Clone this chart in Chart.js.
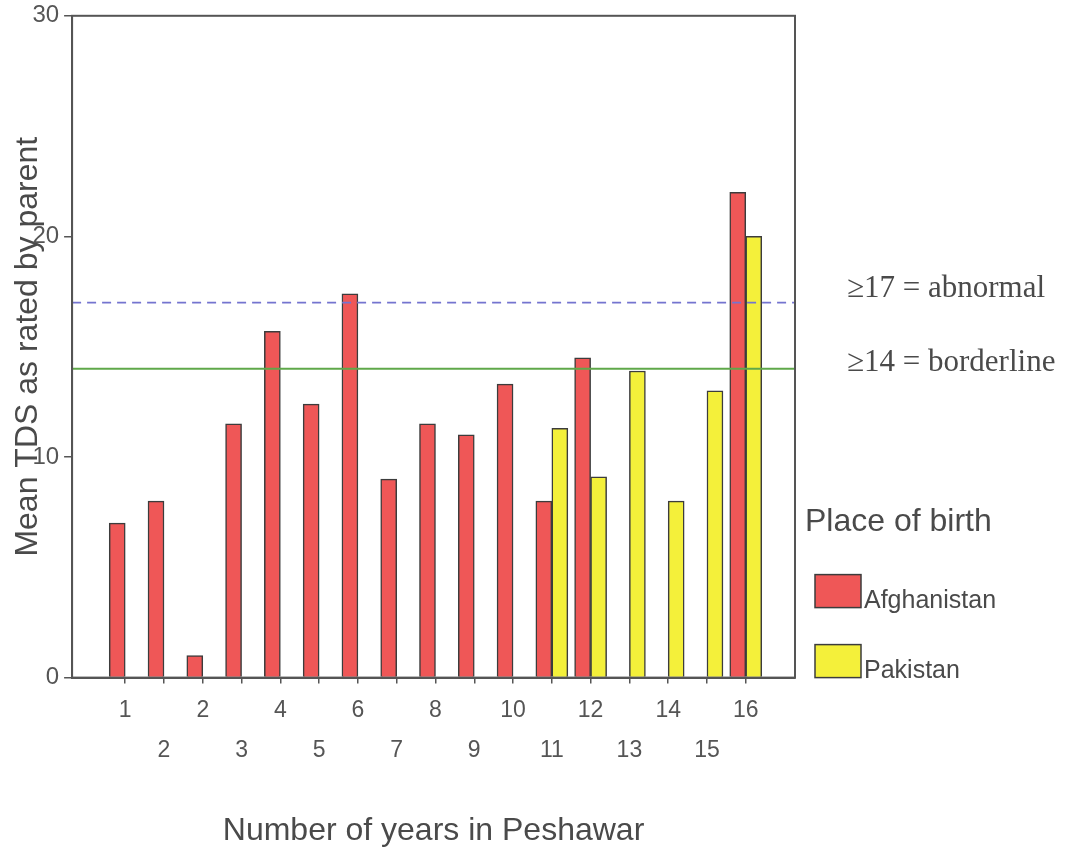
<!DOCTYPE html>
<html>
<head>
<meta charset="utf-8">
<script src="https://cdn.jsdelivr.net/npm/chart.js@4.4.0/dist/chart.umd.min.js"></script>
<style>
  html, body { margin: 0; padding: 0; background: #fff; }
</style>
</head>
<body>
<canvas id="myChart" width="1072" height="854"></canvas>
<script>
// categories as printed under the axis (the third one really reads "2")
const years = ['1', '2', '2', '3', '4', '5', '6', '7', '8', '9', '10', '11', '12', '13', '14', '15', '16'];
const afghanistan = [7, 8, 1, 11.5, 15.7, 12.4, 17.4, 9, 11.5, 11, 13.3, 8, 14.5, null, null, null, 22];
const pakistan = [null, null, null, null, null, null, null, null, null, null, null, 11.3, 9.1, 13.9, 8, 13, 20];
const yTicks = [0, 10, 20, 30];
const cutoffs = [17, 14];
const cutoffLabels = ['≥17 = abnormal', '≥14 = borderline'];
const legendTitle = 'Place of birth';

const ctx = document.getElementById('myChart');
const sans = 'Liberation Sans';
const ink = '#4a4a4a';
const axisGray = '#555';

// cutoff lines + notes, frame, legend
const extras = {
  id: 'extras',
  afterDatasetsDraw(chart) {
    const {ctx, chartArea: a, scales: {y}} = chart;
    const styles = [
      {color: '#7474cf', dash: [9, 6], width: 1.6},
      {color: '#5fa84a', dash: [], width: 1.8}
    ];
    const textDy = [-6, 2];
    ctx.save();
    cutoffs.forEach((v, i) => {
      const py = y.getPixelForValue(v);
      ctx.strokeStyle = styles[i].color;
      ctx.lineWidth = styles[i].width;
      ctx.setLineDash(styles[i].dash);
      ctx.beginPath();
      ctx.moveTo(a.left, py);
      ctx.lineTo(a.right, py);
      ctx.stroke();
      ctx.setLineDash([]);
      ctx.fillStyle = ink;
      ctx.font = '31px "Liberation Serif"';
      ctx.textBaseline = 'alphabetic';
      ctx.textAlign = 'left';
      ctx.fillText(cutoffLabels[i], a.right + 52, py + textDy[i]);
    });
    ctx.strokeStyle = axisGray;
    ctx.lineWidth = 2;
    ctx.strokeRect(a.left, a.top, a.right - a.left, a.bottom - a.top);
    ctx.restore();
  },
  afterDraw(chart) {
    const {ctx, chartArea: a} = chart;
    const sets = chart.data.datasets;
    const x0 = a.right + 20;
    ctx.save();
    ctx.fillStyle = ink;
    ctx.font = '32px "' + sans + '"';
    ctx.textBaseline = 'middle';
    ctx.textAlign = 'left';
    ctx.fillText(legendTitle, a.right + 10, a.bottom - 155);
    sets.forEach((ds, i) => {
      const bottom = a.bottom - (sets.length - 1 - i) * 70;
      ctx.fillStyle = ds.backgroundColor;
      ctx.fillRect(x0, bottom - 33, 46, 33);
      ctx.strokeStyle = '#3c3c3c';
      ctx.lineWidth = 1.5;
      ctx.strokeRect(x0, bottom - 33, 46, 33);
      ctx.fillStyle = ink;
      ctx.font = '25px "' + sans + '"';
      ctx.textBaseline = 'alphabetic';
      ctx.fillText(ds.label, x0 + 49, bottom);
    });
    ctx.restore();
  }
};

new Chart(ctx, {
  type: 'bar',
  data: {
    datasets: [{
      label: 'Afghanistan',
      data: afghanistan.map((v, i) => ({x: i, y: v})),
      backgroundColor: '#ef5757',
      borderColor: '#3c3c3c',
      borderWidth: 1.5,
      barThickness: 16
    }, {
      label: 'Pakistan',
      data: pakistan.map((v, i) => ({x: i, y: v})),
      backgroundColor: '#f4f03a',
      borderColor: '#3c3c3c',
      borderWidth: 1.5,
      barThickness: 16
    }]
  },
  options: {
    responsive: false,
    animation: false,
    layout: {padding: {left: 9, right: 277, top: 10, bottom: 4}},
    plugins: {
      legend: {display: false},
      tooltip: {enabled: false}
    },
    scales: {
      x: {
        type: 'linear',
        offset: false,
        bounds: 'data',
        min: -1.37,
        max: 17.27,
        afterBuildTicks: (scale) => { scale.ticks = years.map((_, i) => ({value: i})); },
        ticks: {
          autoSkip: false,
          maxRotation: 0,
          padding: 7,
          color: axisGray,
          font: {family: sans, size: 23, lineHeight: 40 / 23},
          callback: (v) => (v % 2 === 0 ? [years[v], ''] : ['', years[v]])
        },
        grid: {offset: false, drawOnChartArea: false, tickLength: 6, color: axisGray, lineWidth: 1.5},
        border: {color: axisGray, width: 2},
        title: {
          display: true,
          text: 'Number of years in Peshawar',
          color: ink,
          font: {family: sans, size: 32},
          padding: {top: 34, bottom: 0}
        }
      },
      y: {
        min: 0,
        max: 30,
        afterBuildTicks: (scale) => { scale.ticks = yTicks.map(v => ({value: v})); },
        ticks: {padding: 5, color: axisGray, font: {family: sans, size: 24, lineHeight: 0.9}},
        grid: {drawOnChartArea: false, tickLength: 8, color: axisGray, lineWidth: 1.5},
        border: {color: axisGray, width: 2},
        title: {
          display: true,
          text: 'Mean TDS as rated by parent',
          color: ink,
          font: {family: sans, size: 32},
          padding: {top: 0, bottom: -20}
        }
      }
    }
  },
  plugins: [extras]
});
</script>
</body>
</html>
